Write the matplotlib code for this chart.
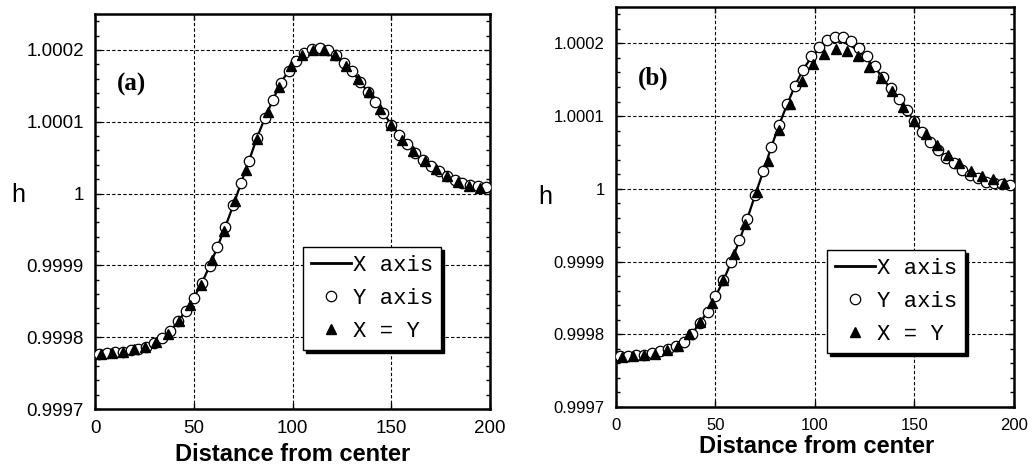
import numpy as np
import matplotlib

matplotlib.use("Agg")
import matplotlib.pyplot as plt
from matplotlib.lines import Line2D
from matplotlib.ticker import FixedLocator, MultipleLocator

# distance from center of the sampled points
r_axis = [2, 6, 10, 14, 18, 22, 26, 30, 34, 38, 42, 46, 50, 54, 58, 62, 66, 70, 74, 78,
          82, 86, 90, 94, 98, 102, 106, 110, 114, 118, 122, 126, 130, 134, 138, 142, 146,
          150, 154, 158, 162, 166, 170, 174, 178, 182, 186, 190, 194, 198]
r_diag = [2.83, 8.49, 14.14, 19.8, 25.46, 31.11, 36.77, 42.43, 48.08, 53.74, 59.4, 65.05,
          70.71, 76.37, 82.02, 87.68, 93.34, 98.99, 104.65, 110.31, 115.97, 121.62, 127.28,
          132.94, 138.59, 144.25, 149.91, 155.56, 161.22, 166.88, 172.53, 178.19, 183.85,
          189.5, 195.16]

# h - 1, in units of 1e-4
line_a = [-2.24, -2.22, -2.21, -2.20, -2.18, -2.16, -2.13, -2.08, -2.01, -1.92, -1.78, -1.63,
          -1.45, -1.25, -1.01, -0.74, -0.46, -0.16, 0.15, 0.46, 0.78, 1.05, 1.30, 1.54, 1.71,
          1.85, 1.95, 2.01, 2.03, 2.00, 1.93, 1.82, 1.71, 1.56, 1.42, 1.28, 1.12, 0.96, 0.82,
          0.69, 0.57, 0.47, 0.38, 0.31, 0.24, 0.19, 0.15, 0.12, 0.11, 0.09]
yaxis_a = [-2.24, -2.22, -2.21, -2.20, -2.18, -2.16, -2.13, -2.08, -2.01, -1.92, -1.78, -1.63,
           -1.45, -1.25, -1.01, -0.74, -0.46, -0.16, 0.15, 0.46, 0.78, 1.05, 1.30, 1.54, 1.71,
           1.85, 1.95, 2.01, 2.03, 2.00, 1.93, 1.82, 1.71, 1.56, 1.42, 1.28, 1.12, 0.96, 0.82,
           0.69, 0.57, 0.47, 0.38, 0.31, 0.24, 0.19, 0.15, 0.12, 0.11, 0.09]
diag_a = [-2.24, -2.22, -2.20, -2.17, -2.13, -2.07, -1.95, -1.77, -1.55, -1.27, -0.92, -0.52,
          -0.11, 0.33, 0.76, 1.13, 1.48, 1.77, 1.93, 2.00, 2.00, 1.93, 1.78, 1.60, 1.41, 1.18,
          0.96, 0.75, 0.59, 0.45, 0.34, 0.24, 0.16, 0.11, 0.08]

line_b = [-2.30, -2.30, -2.29, -2.28, -2.26, -2.23, -2.20, -2.16, -2.10, -2.00, -1.85, -1.69,
          -1.48, -1.26, -1.00, -0.71, -0.41, -0.08, 0.24, 0.57, 0.88, 1.16, 1.42, 1.64, 1.80,
          1.92, 2.00, 2.03, 2.02, 1.97, 1.89, 1.79, 1.67, 1.53, 1.37, 1.22, 1.07, 0.93, 0.78,
          0.64, 0.53, 0.43, 0.35, 0.26, 0.19, 0.15, 0.11, 0.08, 0.06, 0.05]
yaxis_b = [-2.30, -2.30, -2.29, -2.28, -2.26, -2.23, -2.20, -2.16, -2.10, -2.00, -1.85, -1.69,
           -1.48, -1.26, -1.00, -0.71, -0.41, -0.08, 0.24, 0.57, 0.88, 1.16, 1.42, 1.64, 1.82,
           1.95, 2.05, 2.09, 2.09, 2.03, 1.94, 1.82, 1.69, 1.54, 1.38, 1.24, 1.08, 0.93, 0.78,
           0.64, 0.53, 0.42, 0.35, 0.26, 0.19, 0.15, 0.10, 0.08, 0.06, 0.05]
diag_b = [-2.31, -2.30, -2.29, -2.27, -2.22, -2.16, -2.00, -1.83, -1.57, -1.25, -0.90, -0.48,
          -0.05, 0.38, 0.81, 1.16, 1.48, 1.71, 1.86, 1.92, 1.89, 1.82, 1.68, 1.52, 1.34, 1.13,
          0.93, 0.76, 0.60, 0.47, 0.35, 0.24, 0.18, 0.13, 0.08]

ytick_values = [0.9997, 0.9998, 0.9999, 1.0, 1.0001, 1.0002]
ytick_labels = ["0.9997", "0.9998", "0.9999", "1", "1.0001", "1.0002"]
xtick_values = [0, 50, 100, 150, 200]
legend_labels = ["X axis", "Y axis", "X = Y"]

TICK_FONT = ["Liberation Sans Narrow", "Liberation Sans"]


def to_h(dev):
    return 1.0 + np.asarray(dev) * 1e-4


def draw_panel(ax, line, yaxis, diag, tag, tick_size, legend_anchor, h_pos, xlabel_pos):
    ax.plot(r_axis, to_h(line), color="black", lw=1.6, zorder=3)
    ax.plot(r_axis, to_h(yaxis), ls="none", marker="o", ms=7.5, mfc="white", mec="black",
            mew=0.9, zorder=4)
    ax.plot(r_diag, to_h(diag), ls="none", marker="^", ms=6.5, mfc="black", mec="black",
            zorder=5)

    ax.set_xlim(0, 200)
    ax.set_ylim(0.9997, 1.00025)
    ax.xaxis.set_major_locator(FixedLocator(xtick_values))
    ax.yaxis.set_major_locator(FixedLocator(ytick_values))
    ax.yaxis.set_minor_locator(MultipleLocator(0.00002))
    ax.set_yticklabels(ytick_labels)
    ax.set_xticklabels([str(v) for v in xtick_values])
    ax.tick_params(which="both", direction="in", left=True, right=True, top=True,
                   bottom=True, width=1.0)
    ax.tick_params(which="major", length=4, pad=8)
    ax.tick_params(which="minor", length=3)
    for lab in ax.get_xticklabels() + ax.get_yticklabels():
        lab.set_family(TICK_FONT)
        lab.set_fontsize(tick_size)
    ax.grid(True, which="major", color="black", lw=0.8, ls=(0, (3, 2)))
    for sp in ax.spines.values():
        sp.set_linewidth(1.8)

    ax.set_xlabel("Distance from center", fontsize=17, fontweight="bold",
                  family="Liberation Sans")
    ax.xaxis.set_label_coords(*xlabel_pos)
    ax.xaxis.label.set_va("center")
    ax.set_ylabel("h", rotation=0, fontsize=18, family="Liberation Sans")
    ax.yaxis.set_label_coords(*h_pos)
    ax.yaxis.label.set_va("center")

    ax.text(11, 1.000152, tag, fontsize=18, fontweight="bold", family="Liberation Serif",
            va="center", ha="left")

    handles = [
        Line2D([], [], color="black", lw=2),
        Line2D([], [], ls="none", marker="o", ms=7.5, mfc="white", mec="black", mew=0.9),
        Line2D([], [], ls="none", marker="^", ms=6.5, color="black"),
    ]
    leg = ax.legend(handles, legend_labels, loc="upper left", bbox_to_anchor=legend_anchor,
                    prop={"family": "Liberation Mono", "size": 16}, fancybox=False,
                    edgecolor="black", framealpha=1, shadow={"color": "black", "alpha": 1},
                    handlelength=1.8, handletextpad=0.1, labelspacing=0.55, borderpad=0.35,
                    borderaxespad=0)
    leg.get_frame().set_linewidth(1.0)


fig = plt.figure(figsize=(10.33, 4.71), dpi=100)
ax_a = fig.add_axes([0.092, 0.1316, 0.3824, 0.8387])
ax_b = fig.add_axes([0.5963, 0.1359, 0.3853, 0.8493])

draw_panel(ax_a, line_a, yaxis_a, diag_a, "(a)", 13.5, (0.527, 0.41), (-0.195, 0.542),
           (0.5, -0.115))
draw_panel(ax_b, line_b, yaxis_b, diag_b, "(b)", 12, (0.53, 0.3925), (-0.178, 0.525),
           (0.505, -0.1))

fig.savefig("out.png", dpi=100)
